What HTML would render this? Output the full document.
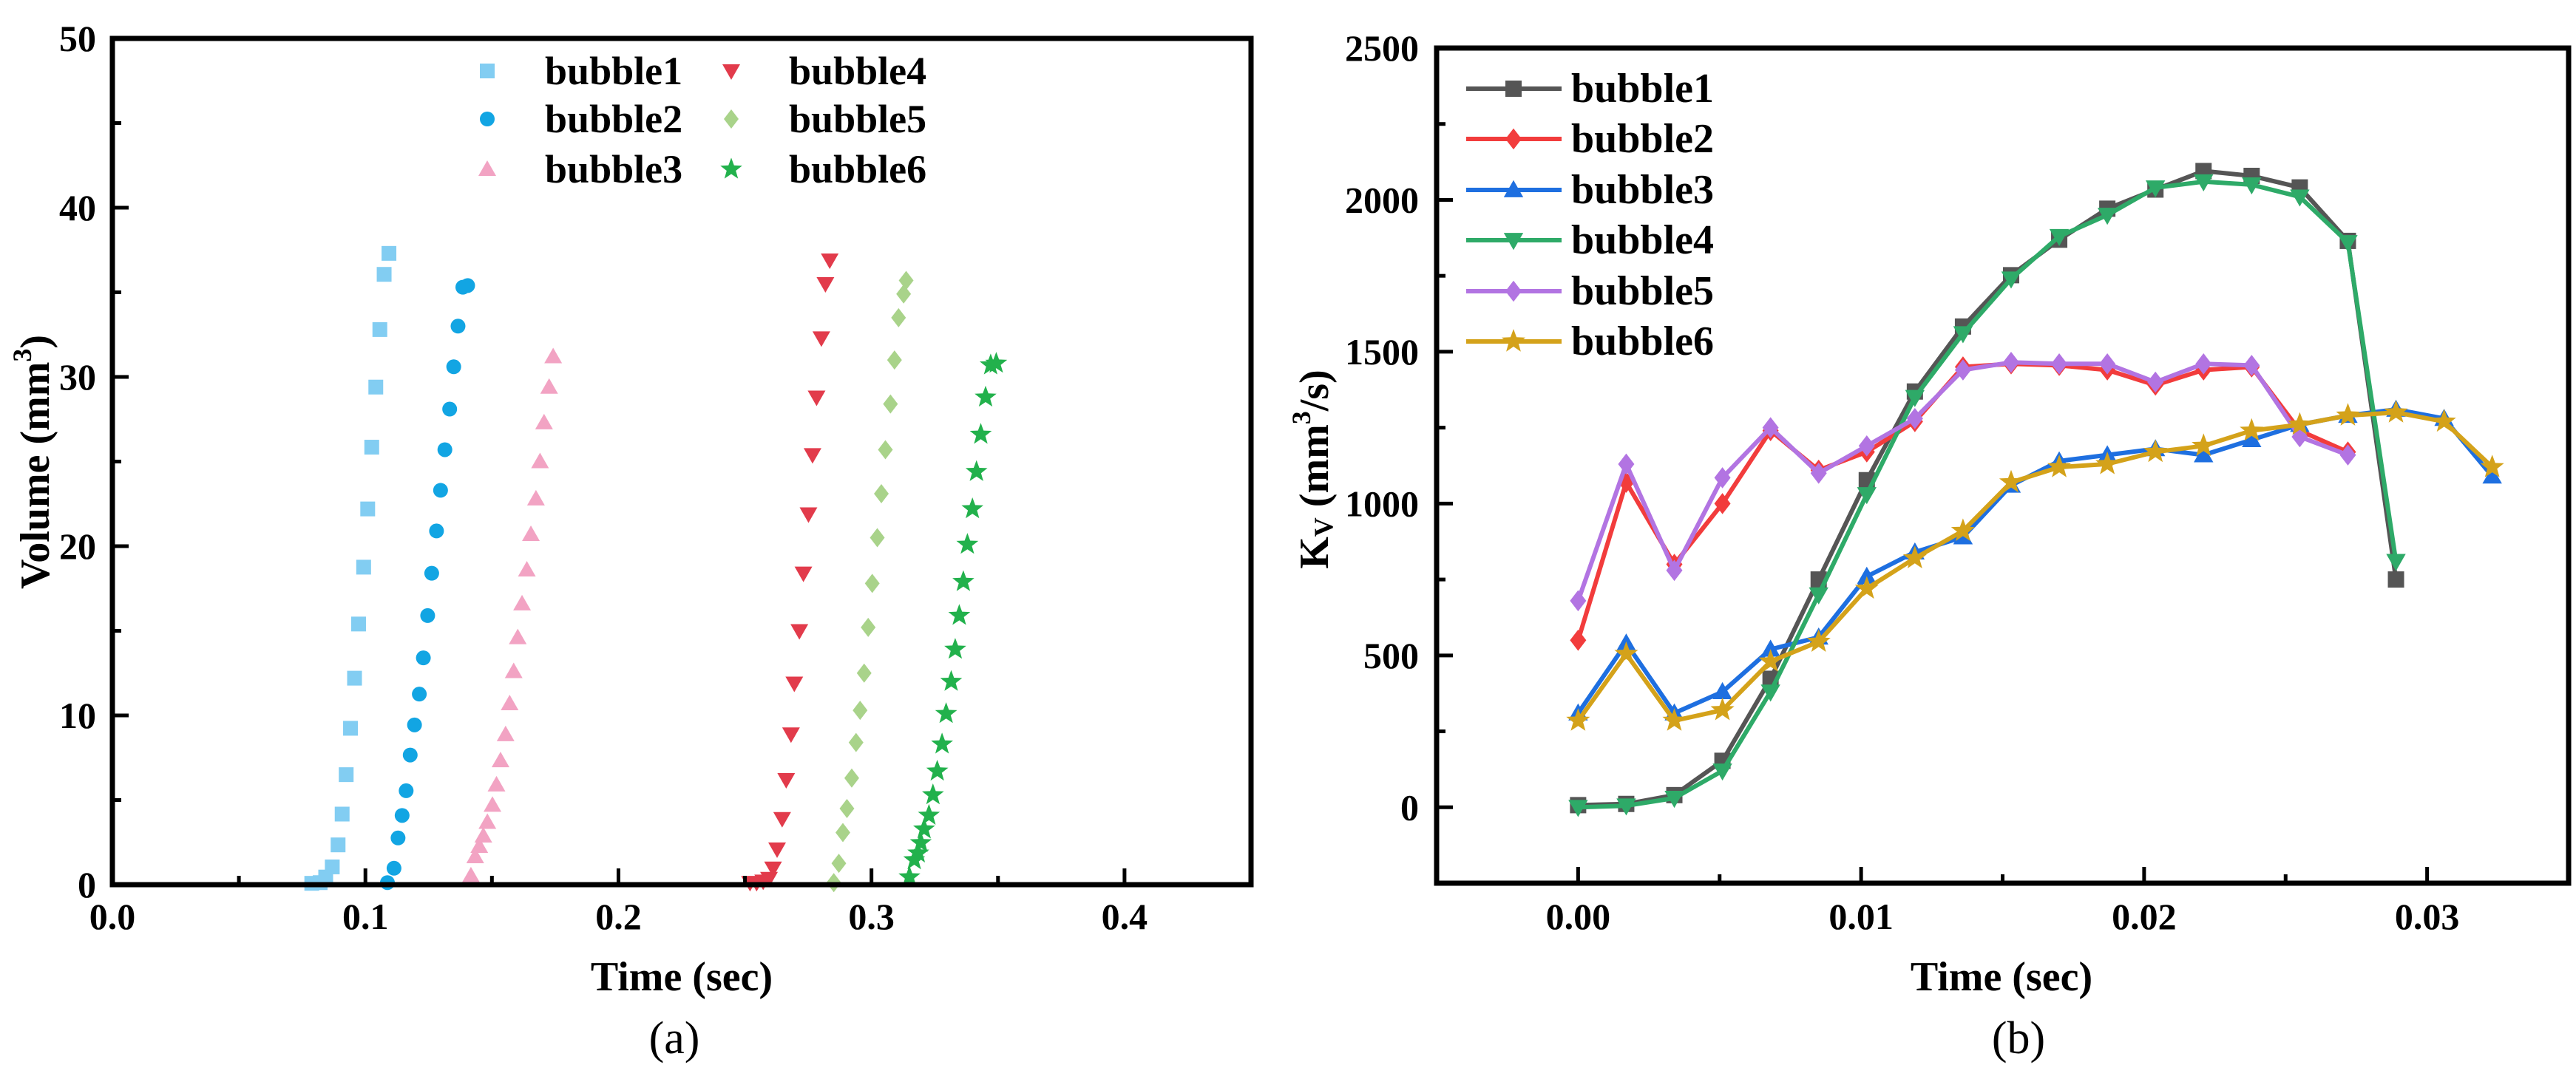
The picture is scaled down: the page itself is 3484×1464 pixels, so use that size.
<!DOCTYPE html>
<html><head><meta charset="utf-8"><style>
html,body{margin:0;padding:0;background:#fff;}
svg{display:block;font-family:"Liberation Serif",serif;}
</style></head><body>
<svg id="fig" width="3484" height="1464" viewBox="0 0 3484 1464" xmlns="http://www.w3.org/2000/svg">
<g id="chartA"></g>
<g id="chartB"></g>
</svg>
<script>
// ---------- Chart (a) data ----------
const a_b1_t=[.0788,.0821,.0843,.0869,.0892,.0908,.0924,.0941,.0957,.0973,.0993,.1009,.1025,.1041,.1057,.1074,.1093];
const a_b1_v=[.08,.12,.45,1.05,2.35,4.17,6.5,9.24,12.2,15.4,18.76,22.2,25.85,29.4,32.8,36.06,37.3];
const a_b2_t=[.1087,.1113,.1129,.1145,.1161,.1177,.1194,.1213,.1229,.1246,.1262,.1281,.1297,.1314,.1333,.1349,.1366,.1385,.1404];
const a_b2_v=[.12,.97,2.76,4.09,5.55,7.66,9.44,11.26,13.4,15.9,18.4,20.9,23.3,25.7,28.1,30.6,33.0,35.3,35.4];
const a_b3_t=[.1417,.1434,.1450,.1466,.1482,.1502,.1518,.1534,.1554,.1570,.1586,.1602,.1619,.1638,.1654,.1674,.1690,.1706,.1726,.1742];
const a_b3_v=[.53,1.66,2.27,2.88,3.69,4.7,5.9,7.33,8.87,10.7,12.6,14.6,16.6,18.6,20.7,22.8,25.0,27.3,29.4,31.2];
const a_b4_t=[.2520,.2546,.2572,.2595,.2611,.2627,.2647,.2663,.2682,.2695,.2715,.2731,.2751,.2767,.2783,.2802,.2818,.2835];
const a_b4_v=[.12,.12,.2,.36,.97,2.1,3.9,6.2,8.9,11.9,15.0,18.4,21.9,25.4,28.8,32.3,35.5,36.9];
const a_b5_t=[.2851,.2871,.2887,.2903,.2922,.2939,.2955,.2971,.2987,.3003,.3023,.3039,.3055,.3075,.3091,.3107,.3127,.3137];
const a_b5_v=[.12,1.26,3.08,4.5,6.3,8.4,10.3,12.5,15.2,17.8,20.5,23.1,25.7,28.4,31.0,33.5,34.9,35.7];
const a_b6_t=[.3150,.3169,.3185,.3195,.3208,.3227,.3243,.3260,.3279,.3295,.3315,.3331,.3347,.3363,.3379,.3399,.3415,.3432,.3451,.3471,.3493];
const a_b6_v=[.45,1.46,1.86,2.47,3.28,4.09,5.3,6.7,8.3,10.1,12.0,13.9,15.9,17.9,20.1,22.2,24.4,26.6,28.8,30.7,30.8];
const a_xticks=[0,0.1,0.2,0.3,0.4];
const a_xtickLabels=["0.0","0.1","0.2","0.3","0.4"];
const a_yticks=[0,10,20,30,40,50];
const a_names=["bubble1","bubble2","bubble3","bubble4","bubble5","bubble6"];

// ---------- Chart (b) data ----------
const b_step=0.0017;
const b_b1=[7,11,40,153,423,750,1077,1369,1583,1752,1869,1971,2034,2095,2079,2041,1865,750];
const b_b2=[550,1070,800,1000,1240,1110,1170,1270,1450,1460,1455,1440,1390,1440,1450,1240,1170];
const b_b3=[310,540,310,380,520,560,760,840,890,1060,1140,1160,1180,1160,1210,1260,1290,1310,1280,1090];
const b_b4=[0,5,30,120,380,700,1030,1350,1560,1740,1880,1950,2040,2060,2050,2010,1860,810];
const b_b5=[680,1130,780,1085,1250,1100,1190,1280,1440,1465,1460,1460,1400,1460,1455,1220,1160];
const b_b6=[285,505,285,320,480,545,720,820,910,1070,1120,1130,1170,1190,1240,1260,1290,1300,1270,1120];
const b_xticks=[0,0.01,0.02,0.03];
const b_xtickLabels=["0.00","0.01","0.02","0.03"];
const b_yticks=[0,500,1000,1500,2000,2500];

const NS="http://www.w3.org/2000/svg";
function mk(parent,tag,attrs){const e=document.createElementNS(NS,tag);for(const k in attrs)e.setAttribute(k,attrs[k]);parent.appendChild(e);return e;}

function marker(g,shape,x,y,s,color){
  let e;
  if(shape==="square"){e=mk(g,"rect",{x:x-s/2,y:y-s/2,width:s,height:s,fill:color});}
  else if(shape==="circle"){e=mk(g,"circle",{cx:x,cy:y,r:s/2,fill:color});}
  else if(shape==="up"){e=mk(g,"polygon",{points:`${x},${y-s*0.6} ${x-s*0.6},${y+s*0.45} ${x+s*0.6},${y+s*0.45}`,fill:color});}
  else if(shape==="down"){e=mk(g,"polygon",{points:`${x},${y+s*0.6} ${x-s*0.6},${y-s*0.45} ${x+s*0.6},${y-s*0.45}`,fill:color});}
  else if(shape==="diamond"){e=mk(g,"polygon",{points:`${x},${y-s*0.65} ${x+s*0.5},${y} ${x},${y+s*0.65} ${x-s*0.5},${y}`,fill:color});}
  else {let p=[];for(let i=0;i<10;i++){const r=i%2?s*0.27:s*0.65;const a=-Math.PI/2+i*Math.PI/5;p.push((x+r*Math.cos(a)).toFixed(1)+","+(y+r*Math.sin(a)).toFixed(1));}
    e=mk(g,"polygon",{points:p.join(" "),fill:color});}
  return e;
}
function text(g,x,y,str,size,anchor,weight){const t=mk(g,"text",{x:x,y:y,"font-size":size,"text-anchor":anchor,"font-weight":weight||"bold","dominant-baseline":"central",fill:"#000"});t.textContent=str;return t;}

// ---------- Draw chart (a) ----------
(function(){
  const g=document.getElementById("chartA");
  const L=152,R=1692,T=52,B=1197;
  const sx=t=>L+(t-0)/(0.45)*(R-L);
  const sy=v=>B-(v/50)*(B-T);
  const cols=["#82cdf2","#12a5e3","#f2a3c3","#e23b4b","#a9d38a","#22b14c"];
  const shapes=["square","circle","up","down","diamond","star"];
  const ts=[a_b1_t,a_b2_t,a_b3_t,a_b4_t,a_b5_t,a_b6_t];
  const vs=[a_b1_v,a_b2_v,a_b3_v,a_b4_v,a_b5_v,a_b6_v];
  for(let s=0;s<6;s++){
    const sg=mk(g,"g",{});
    
    
    for(let i=0;i<ts[s].length;i++){
      const m=marker(sg,shapes[s],sx(ts[s][i]),sy(vs[s][i]),shapes[s]==="star"?24:20,cols[s]);
      
      
    }
  }
  const frame=mk(g,"rect",{x:L,y:T,width:R-L,height:B-T,fill:"none",stroke:"#000","stroke-width":7});
  
  
  for(let i=0;i<a_xticks.length;i++){
    const x=sx(a_xticks[i]);
    mk(g,"line",{x1:x,y1:B,x2:x,y2:B-22,stroke:"#000","stroke-width":5});
    const t=text(g,x,1240,a_xtickLabels[i],50,"middle");
    
    
    if(i<a_xticks.length){const xm=sx(a_xticks[i]+0.05);if(xm<R)mk(g,"line",{x1:xm,y1:B,x2:xm,y2:B-12,stroke:"#000","stroke-width":5});}
  }
  for(let i=0;i<a_yticks.length;i++){
    const y=sy(a_yticks[i]);
    mk(g,"line",{x1:L,y1:y,x2:L+22,y2:y,stroke:"#000","stroke-width":5});
    if(a_yticks[i]<50){const ym=sy(a_yticks[i]+5);mk(g,"line",{x1:L,y1:ym,x2:L+12,y2:ym,stroke:"#000","stroke-width":5});}
    const t=text(g,L-22,y,String(a_yticks[i]),50,"end");
    
    
  }
  const xt=text(g,922,1322,"Time (sec)",56,"middle");
  
  
  const yt=mk(g,"text",{x:0,y:0,"font-size":56,"font-weight":"bold","text-anchor":"middle","dominant-baseline":"central",transform:"translate(48,625) rotate(-90)"});
  yt.innerHTML='Volume (mm<tspan dy="-18" font-size="36">3</tspan><tspan dy="18">)</tspan>';
  
  
  const cap=text(g,912,1405,"(a)",62,"middle","normal");
  
  
  // legend
  const lg=mk(g,"g",{});
  
  
  const rowsY=[96,161,229];
  for(let s=0;s<6;s++){
    const col=s<3?0:1,row=s%3;
    const mx=col?989:659,tx=col?1067:737;
    const eg=mk(lg,"g",{});
    
    
    marker(eg,shapes[s],mx,rowsY[row],shapes[s]==="star"?24:20,cols[s]);
    text(eg,tx,rowsY[row],a_names[s],54,"start");
  }
})();

// ---------- Draw chart (b) ----------
(function(){
  const g=document.getElementById("chartB");
  const L=1943,R=3474,T=65,B=1195;
  const sx=t=>L+(t+0.005)/0.04*(R-L);
  const sy=v=>B-(v+250)/2750*(B-T);
  const names=["bubble1","bubble2","bubble3","bubble4","bubble5","bubble6"];
  const cols=["#555555","#f23c3c","#1e6fe0","#2eaa68","#b274e2","#d4a21a"];
  const shapes=["square","diamond","up","down","diamond","star"];
  const data=[b_b1,b_b2,b_b3,b_b4,b_b5,b_b6];
  for(let s=0;s<6;s++){
    const sg=mk(g,"g",{});
    
    
    const pts=data[s].map((v,i)=>sx(i*b_step).toFixed(1)+","+sy(v).toFixed(1)).join(" ");
    const pl=mk(sg,"polyline",{points:pts,fill:"none",stroke:cols[s],"stroke-width":6,"stroke-linejoin":"round"});
    
    
    data[s].forEach((v,i)=>{
      const m=marker(sg,shapes[s],sx(i*b_step),sy(v),shapes[s]==="star"?26:22,cols[s]);
      
      
    });
  }
  const frame=mk(g,"rect",{x:L,y:T,width:R-L,height:B-T,fill:"none",stroke:"#000","stroke-width":7});
  
  
  for(let i=0;i<b_xticks.length;i++){
    const x=sx(b_xticks[i]);
    mk(g,"line",{x1:x,y1:B,x2:x,y2:B-22,stroke:"#000","stroke-width":5});
    const xm=sx(b_xticks[i]+0.005);
    if(xm<R)mk(g,"line",{x1:xm,y1:B,x2:xm,y2:B-12,stroke:"#000","stroke-width":5});
    const t=text(g,x,1240,b_xtickLabels[i],50,"middle");
    
    
  }
  for(let i=0;i<b_yticks.length;i++){
    const y=sy(b_yticks[i]);
    mk(g,"line",{x1:L,y1:y,x2:L+22,y2:y,stroke:"#000","stroke-width":5});
    const ym=sy(b_yticks[i]-250);
    mk(g,"line",{x1:L,y1:ym,x2:L+12,y2:ym,stroke:"#000","stroke-width":5});
    const t=text(g,L-24,y,String(b_yticks[i]),50,"end");
    
    
  }
  const xt=text(g,2707,1322,"Time (sec)",56,"middle");
  
  
  const yt=mk(g,"text",{x:0,y:0,"font-size":56,"font-weight":"bold","text-anchor":"middle","dominant-baseline":"central",transform:"translate(1778,635) rotate(-90)"});
  yt.innerHTML='K<tspan dy="12" font-size="36">V</tspan><tspan dy="-12"> (mm</tspan><tspan dy="-18" font-size="36">3</tspan><tspan dy="18">/s)</tspan>';
  
  
  const cap=text(g,2730,1405,"(b)",62,"middle","normal");
  
  
  const lg=mk(g,"g",{});
  
  
  const rowsY=[120,188,257,325,394,462];
  for(let s=0;s<6;s++){
    const eg=mk(lg,"g",{});
    
    
    mk(eg,"line",{x1:1983,y1:rowsY[s],x2:2112,y2:rowsY[s],stroke:cols[s],"stroke-width":6});
    marker(eg,shapes[s],2047,rowsY[s],shapes[s]==="star"?26:22,cols[s]);
    text(eg,2125,rowsY[s],names[s],56,"start");
  }
})();
</script>
</body></html>
